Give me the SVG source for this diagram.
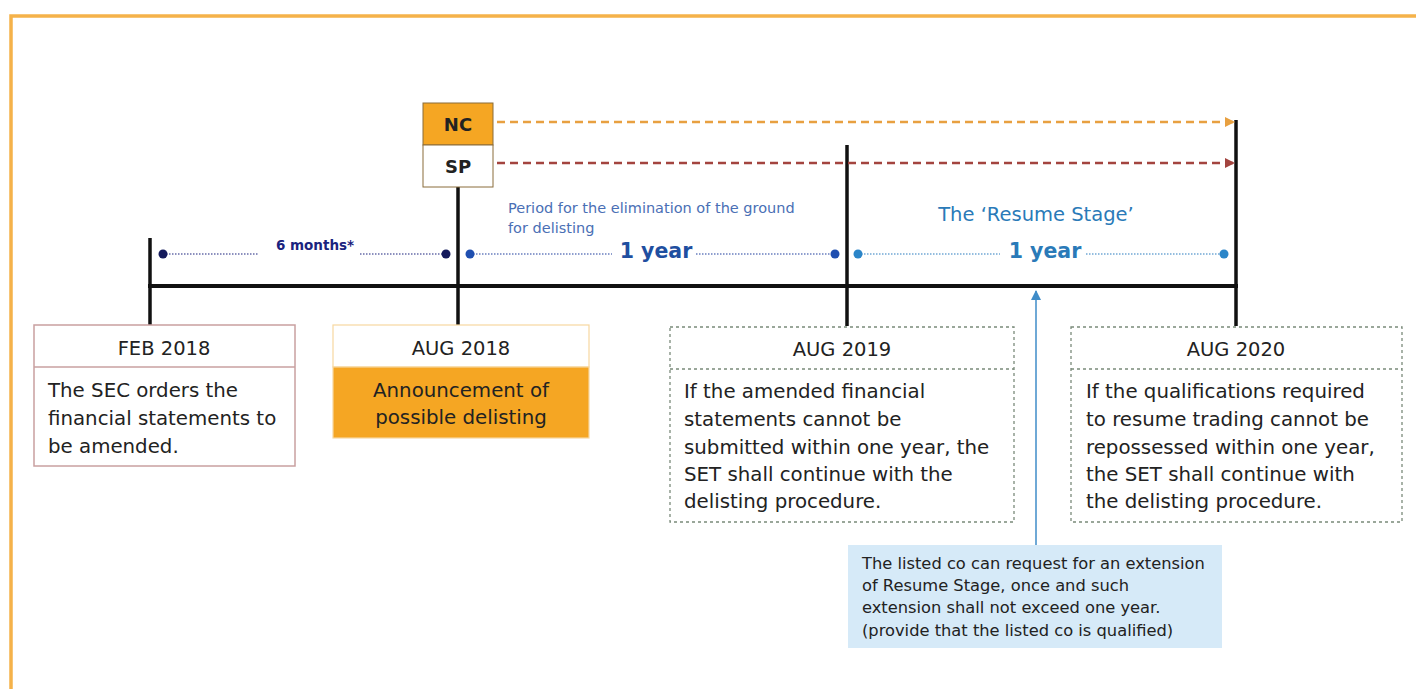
<svg xmlns="http://www.w3.org/2000/svg" width="1416" height="689" viewBox="0 0 1416 689">
<style>
.t{font-family:"DejaVu Sans",Verdana,sans-serif;fill:#222}
.b{font-size:19.8px}
.h{font-size:19.5px;text-anchor:middle}
.n{font-size:16.3px}
.vl{stroke:#111;stroke-width:3.5}
.dot1{stroke:#1f3f9e;stroke-width:1.2;stroke-dasharray:1.5 1.5}
.dotline2{stroke:#2b7cc0;stroke-width:1.2;stroke-dasharray:1.5 1.5}
</style>
<defs>
<marker id="aO" markerWidth="10" markerHeight="10" refX="9" refY="5" orient="auto" markerUnits="userSpaceOnUse"><path d="M0,0 L10,5 L0,10 z" fill="#e8a040"/></marker>
<marker id="aR" markerWidth="10" markerHeight="10" refX="9" refY="5" orient="auto" markerUnits="userSpaceOnUse"><path d="M0,0 L10,5 L0,10 z" fill="#a3443f"/></marker>
<marker id="aB" markerWidth="10" markerHeight="10" refX="9" refY="5" orient="auto" markerUnits="userSpaceOnUse"><path d="M0,0 L10,5 L0,10 z" fill="#3f8cc8"/></marker>
</defs>
<rect width="1416" height="689" fill="#fff"/>
<path d="M11,689 V16 H1416" fill="none" stroke="#f5b24a" stroke-width="3.5"/>

<g id="connectors">
<line x1="148" y1="286" x2="1238" y2="286" stroke="#111" stroke-width="4"/>
<line class="vl" x1="150" y1="238" x2="150" y2="326"/>
<line class="vl" x1="458" y1="187" x2="458" y2="326"/>
<line class="vl" x1="847" y1="145" x2="847" y2="326"/>
<line class="vl" x1="1236" y1="120" x2="1236" y2="326"/>
<line x1="497" y1="122" x2="1234" y2="122" stroke="#e8a040" stroke-width="2.5" stroke-dasharray="8 5" marker-end="url(#aO)"/>
<line x1="497" y1="163" x2="1234" y2="163" stroke="#a3443f" stroke-width="2.5" stroke-dasharray="8 5" marker-end="url(#aR)"/>
<line x1="163" y1="254" x2="258" y2="254" stroke="#1a237e" stroke-width="1.2" stroke-dasharray="1.5 1.5"/>
<line x1="360" y1="254" x2="446" y2="254" stroke="#1a237e" stroke-width="1.2" stroke-dasharray="1.5 1.5"/>
<circle cx="163" cy="254" r="4.5" fill="#141a5c"/>
<circle cx="446" cy="254" r="4.5" fill="#141a5c"/>
<line class="dot1" x1="470" y1="254" x2="612" y2="254"/>
<line class="dot1" x1="696" y1="254" x2="835" y2="254"/>
<circle cx="470" cy="254" r="4.5" fill="#1f4fb0"/>
<circle cx="835" cy="254" r="4.5" fill="#1f4fb0"/>
<line class="dotline2" x1="858" y1="254" x2="1000" y2="254"/>
<line class="dotline2" x1="1086" y1="254" x2="1224" y2="254"/>
<circle cx="858" cy="254" r="4.5" fill="#2b85c8"/>
<circle cx="1224" cy="254" r="4.5" fill="#2b85c8"/>
<line x1="1036" y1="545" x2="1036" y2="291" stroke="#3f8cc8" stroke-width="1.5" marker-end="url(#aB)"/>
</g>

<g id="labels">
<text class="t" x="315" y="250" font-size="13.5" font-weight="bold" text-anchor="middle" style="fill:#1a237e">6 months*</text>
<text class="t" x="508" y="213" font-size="14.5" style="fill:#4a6fb5">Period for the elimination of the ground</text>
<text class="t" x="508" y="233" font-size="14.5" style="fill:#4a6fb5">for delisting</text>
<text class="t" x="656" y="258" font-size="20.5" font-weight="bold" text-anchor="middle" style="fill:#1f4fa0">1 year</text>
<text class="t" x="1036" y="221" font-size="19.5" text-anchor="middle" style="fill:#2a7ab8">The ‘Resume Stage’</text>
<text class="t" x="1045" y="258" font-size="20.5" font-weight="bold" text-anchor="middle" style="fill:#2a7ab8">1 year</text>
</g>

<g id="nc">
<rect x="423" y="103" width="70" height="42" fill="#f5a623" stroke="#8a6d3b" stroke-width="1"/>
<text class="t" x="458" y="131" font-size="18" font-weight="bold" text-anchor="middle">NC</text>
</g>
<g id="sp">
<rect x="423" y="145" width="70" height="42" fill="#fff" stroke="#8a6d3b" stroke-width="1"/>
<text class="t" x="458" y="173" font-size="18" font-weight="bold" text-anchor="middle">SP</text>
</g>

<g id="feb2018">
<rect x="34" y="325" width="261" height="141" fill="#fff" stroke="#c9a0a0" stroke-width="1.5"/>
<line x1="34" y1="367" x2="295" y2="367" stroke="#c9a0a0" stroke-width="1.5"/>
<text class="t h" x="164" y="355">FEB 2018</text>
<text class="t b" x="48" y="397">The SEC orders the</text>
<text class="t b" x="48" y="425">financial statements to</text>
<text class="t b" x="48" y="453">be amended.</text>
</g>

<g id="aug2018">
<rect x="333" y="325" width="256" height="42" fill="#fff" stroke="#f7d8a0" stroke-width="1.2"/>
<rect x="333" y="367" width="256" height="71" fill="#f5a623" stroke="#f7d8a0" stroke-width="1.2"/>
<text class="t h" x="461" y="355">AUG 2018</text>
<text class="t h" x="461" y="397" style="font-size:19.8px">Announcement of</text>
<text class="t h" x="461" y="424" style="font-size:19.8px">possible delisting</text>
</g>

<g id="aug2019">
<rect x="670" y="327" width="344" height="195" fill="#fff" stroke="#7a8a7a" stroke-width="1.3" stroke-dasharray="3 3"/>
<line x1="670" y1="369" x2="1014" y2="369" stroke="#7a8a7a" stroke-width="1.3" stroke-dasharray="3 3"/>
<text class="t h" x="842" y="356">AUG 2019</text>
<text class="t b" x="684" y="398">If the amended financial</text>
<text class="t b" x="684" y="426">statements cannot be</text>
<text class="t b" x="684" y="454">submitted within one year, the</text>
<text class="t b" x="684" y="481">SET shall continue with the</text>
<text class="t b" x="684" y="508">delisting procedure.</text>
</g>

<g id="aug2020">
<rect x="1071" y="327" width="331" height="195" fill="#fff" stroke="#7a8a7a" stroke-width="1.3" stroke-dasharray="3 3"/>
<line x1="1071" y1="369" x2="1402" y2="369" stroke="#7a8a7a" stroke-width="1.3" stroke-dasharray="3 3"/>
<text class="t h" x="1236" y="356">AUG 2020</text>
<text class="t b" x="1086" y="398">If the qualifications required</text>
<text class="t b" x="1086" y="426">to resume trading cannot be</text>
<text class="t b" x="1086" y="454">repossessed within one year,</text>
<text class="t b" x="1086" y="481">the SET shall continue with</text>
<text class="t b" x="1086" y="508">the delisting procedure.</text>
</g>

<g id="note">
<rect x="848" y="545" width="374" height="103" fill="#d6eaf8"/>
<text class="t n" x="862" y="569">The listed co can request for an extension</text>
<text class="t n" x="862" y="591">of Resume Stage, once and such</text>
<text class="t n" x="862" y="613">extension shall not exceed one year.</text>
<text class="t n" x="862" y="636">(provide that the listed co is qualified)</text>
</g>
</svg>
